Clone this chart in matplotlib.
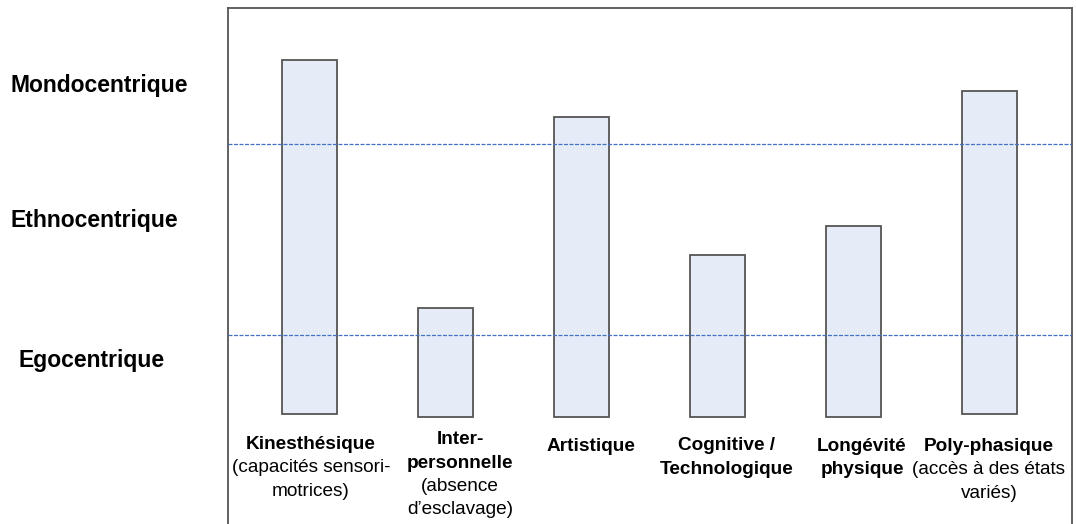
import matplotlib
matplotlib.use("Agg")
import matplotlib.pyplot as plt

# ---- data ----
categories = ["Kinesthésique", "Inter-personnelle", "Artistique",
              "Cognitive / Technologique", "Longévité physique", "Poly-phasique"]
bar_top = [2.44, 1.14, 2.14, 1.42, 1.57, 2.28]      # level reached (1 = ego/ethno, 2 = ethno/mondo)
bar_bottom = [0.586, 0.571, 0.571, 0.571, 0.571, 0.586]
thresholds = [1.0, 2.0]
levels = ["Egocentrique", "Ethnocentrique", "Mondocentrique"]

# label lines: (text, bold)
label_lines = [
    [("Kinesthésique", True), ("(capacités sensori-", False), ("motrices)", False)],
    [("Inter-", True), ("personnelle", True), ("(absence", False), ("d’esclavage)", False)],
    [("Artistique", True)],
    [("Cognitive /", True), ("Technologique", True)],
    [("Longévité", True), ("physique", True)],
    [("Poly-phasique", True), ("(accès à des états", False), ("variés)", False)],
]

W, H = 1076, 524
fig = plt.figure(figsize=(W / 100, H / 100), dpi=100)
plt.rcParams['font.family'] = ['Liberation Sans', 'DejaVu Sans']

# axes frame in pixels
left_px, right_px, top_px, bottom_px = 228, 1072, 8, 530
ax = fig.add_axes([left_px / W, 1 - bottom_px / H,
                   (right_px - left_px) / W, (bottom_px - top_px) / H])

px_per_unit = 191.0
zero_px = 526.0
ax.set_ylim((zero_px - bottom_px) / px_per_unit, (zero_px - top_px) / px_per_unit)
spacing = 136.0
first_center = 309.5
ax.set_xlim((left_px - first_center) / spacing, (right_px - first_center) / spacing)

for s in ax.spines.values():
    s.set_color("#555555")
    s.set_linewidth(1.3)
ax.spines['bottom'].set_visible(False)
ax.set_xticks([])
ax.set_yticks([])

xs = list(range(len(categories)))
heights = [t - b for t, b in zip(bar_top, bar_bottom)]
ax.bar(xs, heights, bottom=bar_bottom, width=55 / spacing, color="#E6ECF7",
       edgecolor="#555555", linewidth=1.3, zorder=2)

for t in thresholds:
    ax.axhline(t, color="#4472C4", lw=0.9, ls=(0, (3.2, 1.2)), zorder=3)

# level labels
lvl_pos = [(11, 366.7), (11, 226.7), (11, 91.7)]
lvl_x = [19, 11, 11]
for name, (x, y) in zip(levels, [(lx, p[1]) for lx, p in zip(lvl_x, lvl_pos)]):
    fig.text(x / W, 1 - y / H, name, ha="left", va="baseline",
             fontsize=16.5, fontweight="bold")

# category labels
label_cx = [311, 460, 591, 727, 862, 989]
label_base = [449, 444, 451, 450, 451, 451]
line_step = 23.5
for lines, cx, b in zip(label_lines, label_cx, label_base):
    for i, (txt, bold) in enumerate(lines):
        fig.text(cx / W, 1 - (b + i * line_step) / H, txt, ha="center", va="baseline",
                 fontsize=13.7, fontweight="bold" if bold else "normal")

fig.savefig("out.png", dpi=100)
